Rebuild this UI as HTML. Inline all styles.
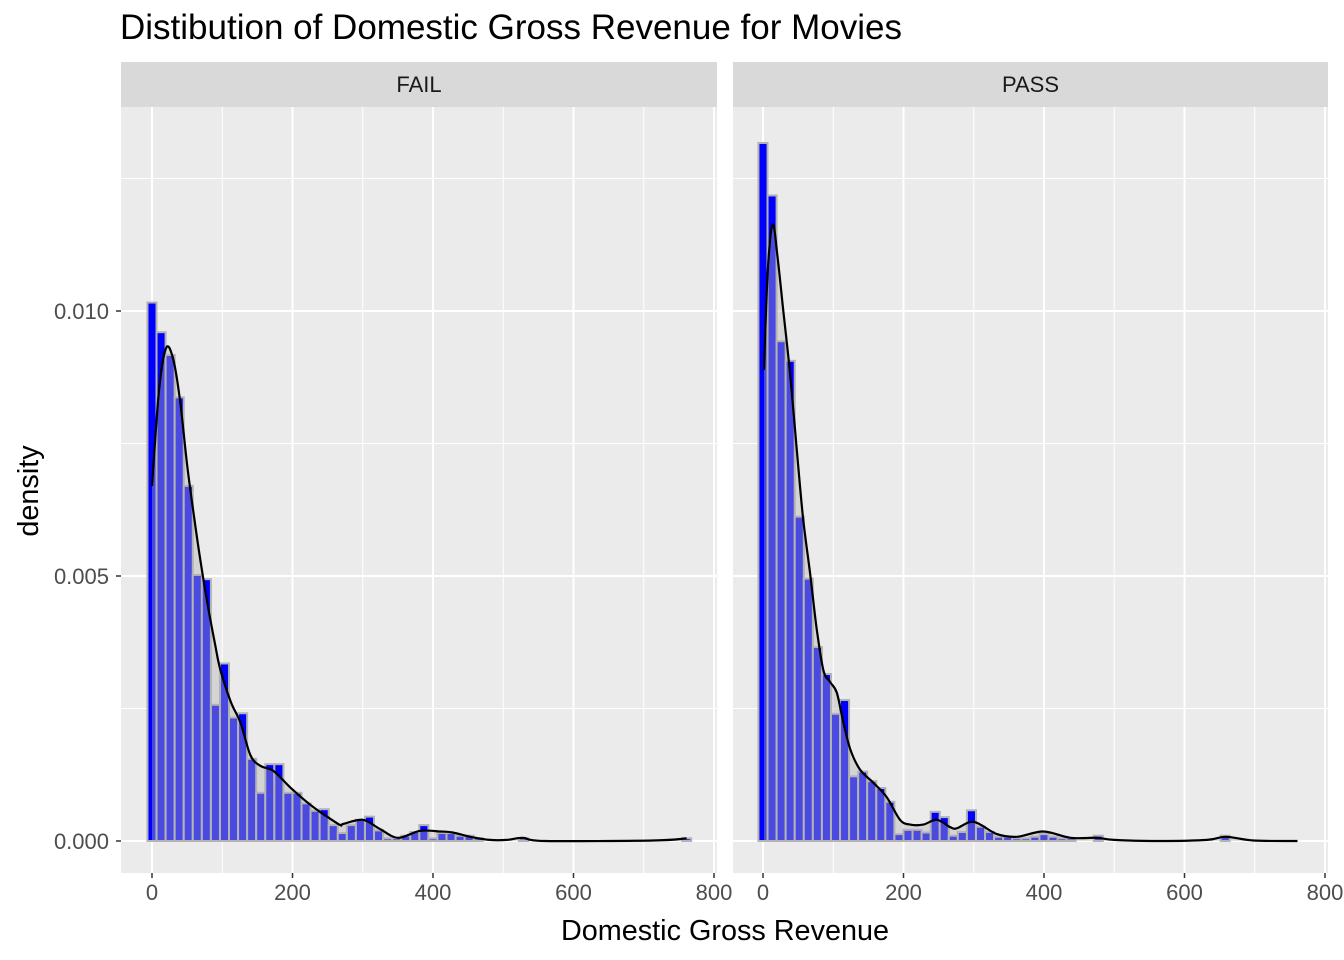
<!DOCTYPE html>
<html><head><meta charset="utf-8"><style>
html,body{margin:0;padding:0;background:#fff;}
svg{display:block;font-family:"Liberation Sans",Arial,sans-serif;}
</style></head><body>
<svg id="chart" width="1344" height="960" viewBox="0 0 1344 960" xmlns="http://www.w3.org/2000/svg">
<text x="120" y="39" font-size="35" fill="#000">Distibution of Domestic Gross Revenue for Movies</text>
<text x="725" y="940" font-size="28.8" fill="#000" text-anchor="middle">Domestic Gross Revenue</text>
<text transform="translate(38,491) rotate(-90)" font-size="28.8" fill="#000" text-anchor="middle">density</text>
</svg>
<script>
const panelNames = ["FAIL", "PASS"];
const binWidth = 12.9;
const failBins = [0.01016,0.0096,0.00917,0.00837,0.0067,0.00502,0.00494,0.00257,0.00335,0.00233,0.00241,0.00155,0.00091,0.00145,0.00145,0.00091,0.00091,0.00071,0.00057,0.0006,0.0003,0.00015,0.0003,0.0004,0.00046,0.0002,0.00005,0.00005,0.0001,0.00017,0.0003,0.00005,0.00015,0.00015,0.0001,0.0001,0.00005,0,0,0,0,0.00005,0,0,0,0,0,0,0,0,0,0,0,0,0,0,0,0,0,0.00005];
const passBins = [0.01317,0.01218,0.00943,0.00906,0.00612,0.00495,0.00366,0.00315,0.0024,0.00266,0.00122,0.00131,0.00113,0.001,0.00074,0.00013,0.00021,0.00021,0.00016,0.00055,0.00045,0.0001,0.00017,0.00058,0.00027,0.00017,0.00008,0.00008,0.00005,0.00005,0.00008,0.00013,0.00008,0.00005,0.00005,0,0,0.0001,0,0,0,0,0,0,0,0,0,0,0,0,0,0.0001];
const failCurveX = [0,10,20,30,40,50,60,70,80,90,97,112,126,140,154,173,196,220,239,248,268,272,300,324,350,381,410,428,453,481,505,528,560,713,761];
const failCurveY = [0.0067,0.0085,0.0093,0.0091,0.0083,0.0071,0.0061,0.0052,0.0044,0.0037,0.00325,0.00263,0.00223,0.00162,0.00142,0.00132,0.00102,0.00074,0.00055,0.00047,0.0003,0.00032,0.0004,0.00023,0.00006,0.00019,0.00018,0.00016,0.00008,0.00002,0.00002,0.00006,0,0.00001,0.00005];
const passCurveX = [1.4,7,14,21,28.7,38,48,57,67,76.5,86,95.5,105,114,124,138,157,176,195,209.5,228,247.5,266.6,276,300,333,361.6,399,437.6,475.6,500,566,632,658.6,698,760.8];
const passCurveY = [0.00889,0.0108,0.01163,0.01098,0.01002,0.00889,0.0074,0.0061,0.00505,0.004,0.00322,0.003,0.0028,0.00226,0.00174,0.00135,0.0011,0.00083,0.0004,0.00031,0.00031,0.0004,0.00026,0.00024,0.00036,0.00013,0.00008,0.00018,0.00006,0.00006,0.00002,0,0.00002,0.00008,0.00001,0];
const xTicks = [0,200,400,600,800];
const xMinor = [100,300,500,700];
const yTicks = [0,0.005,0.010];
const yTickLabels = ["0.000","0.005","0.010"];
const yMinor = [0.0025,0.0075,0.0125];

const NS = "http://www.w3.org/2000/svg";
const svg = document.getElementById("chart");
function mk(tag, attrs, parent) {
  const e = document.createElementNS(NS, tag);
  for (const k in attrs) e.setAttribute(k, attrs[k]);
  (parent || svg).appendChild(e);
  return e;
}
function smoothPath(P) {
  let d = "M" + P[0][0].toFixed(1) + "," + P[0][1].toFixed(1);
  for (let i = 0; i < P.length - 1; i++) {
    const p0 = P[i-1] || P[i], p1 = P[i], p2 = P[i+1], p3 = P[i+2] || P[i+1];
    const c1x = p1[0] + (p2[0]-p0[0])/6, c1y = p1[1] + (p2[1]-p0[1])/6;
    const c2x = p2[0] - (p3[0]-p1[0])/6, c2y = p2[1] - (p3[1]-p1[1])/6;
    d += " C" + c1x.toFixed(1) + "," + c1y.toFixed(1) + " " + c2x.toFixed(1) + "," + c2y.toFixed(1) + " " + p2[0].toFixed(1) + "," + p2[1].toFixed(1);
  }
  return d;
}
const panelTop = 107, panelBottom = 873;
const panels = [{left:121, right:717, x0:152, bins:failBins, cx:failCurveX, cy:failCurveY},
                {left:733, right:1328, x0:763, bins:passBins, cx:passCurveX, cy:passCurveY}];
const pxPerUnit = 0.7025;
function yScale(d) { return 841 - d * 53000; }

panels.forEach((p, pi) => {
  const xScale = v => p.x0 + v * pxPerUnit;
  const g = mk("g", {});
  
  
  const bg = mk("rect", {x:p.left, y:panelTop, width:p.right-p.left, height:panelBottom-panelTop, fill:"#ebebeb"}, g);
  
  
  yMinor.forEach(v => { const l = mk("line", {x1:p.left, x2:p.right, y1:yScale(v), y2:yScale(v), stroke:"#fff", "stroke-width":1}, g);
      });
  xMinor.forEach(v => { const l = mk("line", {x1:xScale(v), x2:xScale(v), y1:panelTop, y2:panelBottom, stroke:"#fff", "stroke-width":1}, g);
      });
  yTicks.forEach(v => { const l = mk("line", {x1:p.left, x2:p.right, y1:yScale(v), y2:yScale(v), stroke:"#fff", "stroke-width":2}, g);
      });
  xTicks.forEach(v => { const l = mk("line", {x1:xScale(v), x2:xScale(v), y1:panelTop, y2:panelBottom, stroke:"#fff", "stroke-width":2}, g);
      });
  p.bins.forEach((d, i) => {
    if (d <= 0) return;
    const c = i * binWidth;
    const x1 = xScale(c - binWidth/2), x2 = xScale(c + binWidth/2);
    const r = mk("rect", {x:x1, y:yScale(d), width:x2-x1, height:yScale(0)-yScale(d), fill:"#0000ff", stroke:"#b3b3b3", "stroke-width":2}, g);
    
    
  });
  const P = p.cx.map((v, i) => [xScale(v), yScale(p.cy[i])]);
  const lineD = smoothPath(P);
  const areaD = "M" + P[0][0].toFixed(1) + "," + yScale(0) + " L" + lineD.slice(1) + " L" + P[P.length-1][0].toFixed(1) + "," + yScale(0) + " Z";
  const area = mk("path", {d: areaD, fill:"#b4b4b4", "fill-opacity":0.41, stroke:"none"}, g);
  
  
  const line = mk("path", {d: lineD, fill:"none", stroke:"#000", "stroke-width":2.2, "stroke-linejoin":"round"}, g);
  
  
  const strip = mk("rect", {x:p.left, y:62, width:p.right-p.left, height:45, fill:"#d9d9d9"}, g);
  
  
  const st = mk("text", {x:(p.left+p.right)/2, y:92, "font-size":22, fill:"#1a1a1a", "text-anchor":"middle"}, g);
  st.textContent = panelNames[pi];
  
  
  xTicks.forEach(v => {
    const t = mk("line", {x1:xScale(v), x2:xScale(v), y1:873, y2:878, stroke:"#333", "stroke-width":1.5}, g);
     
    const tx = mk("text", {x:xScale(v), y:900, "font-size":22, fill:"#4d4d4d", "text-anchor":"middle"}, g);
    tx.textContent = String(v);
     
  });
  if (pi === 0) {
    yTicks.forEach((v, i) => {
      const t = mk("line", {x1:116, x2:121, y1:yScale(v), y2:yScale(v), stroke:"#333", "stroke-width":1.5}, g);
       
      const tx = mk("text", {x:109, y:yScale(v)+8, "font-size":22, fill:"#4d4d4d", "text-anchor":"end"}, g);
      tx.textContent = yTickLabels[i];
       
    });
  }
});
</script>
</body></html>
